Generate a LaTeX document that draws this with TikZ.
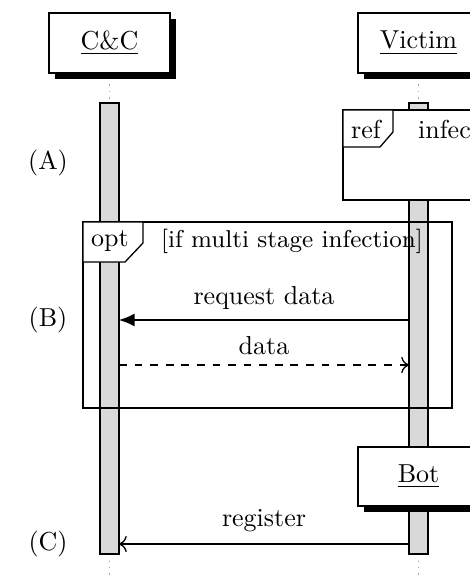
\documentclass[tikz,border=0pt]{standalone}
\usetikzlibrary{arrows.meta}
\begin{document}
\begin{tikzpicture}[x=0.385pt,y=-0.385pt,
  lifeline/.style={draw=gray!70,dotted,line width=0.5pt},
  actbar/.style={draw=black,fill=gray!30,line width=0.5pt},
  objbox/.style={draw=black,fill=white,line width=0.5pt},
  shadowbox/.style={fill=black},
  frame/.style={draw=black,line width=0.5pt},
  tagbox/.style={draw=black,fill=white,line width=0.5pt},
  msg/.style={line width=0.5pt},
  lbl/.style={inner sep=1pt,font=\normalsize}
]
\useasboundingbox (0,0) rectangle (469,579);

% lifelines
\coordinate (ccTop) at (109.5,78);
\coordinate (ccBarTop) at (109.5,103);
\coordinate (ccBarBot) at (109.5,554);
\coordinate (ccEnd) at (109.5,579);
\coordinate (vTop) at (418.5,78);
\coordinate (vBarTop) at (418.5,103);
\coordinate (vBarBot) at (418.5,554);
\coordinate (vEnd) at (418.5,579);
\draw[lifeline] (ccTop) -- (ccBarTop);
\draw[lifeline] (ccBarBot) -- (ccEnd);
\draw[lifeline] (vTop) -- (vBarTop);
\draw[lifeline] (vBarBot) -- (vEnd);

% object heads
\fill[shadowbox] (54.5,18.5) rectangle (175.5,78.5);
\draw[objbox] (49,13) rectangle (170,73);
\node[lbl] (cc) at (109.5,43) {\underline{C\&C}};
\fill[shadowbox] (363.5,18.5) rectangle (484.5,78.5);
\draw[objbox] (358,13) rectangle (479,73);
\node[lbl] (victim) at (418.5,43) {\underline{Victim}};

% activation bars
\draw[actbar] (100,103) rectangle (119,554);
\draw[actbar] (409,103) rectangle (428,554);

% ref fragment
\draw[objbox] (343,110) rectangle (500,200);
\draw[tagbox] (343,110) -- (393,110) -- (393,132) -- (380,147) -- (343,147) -- cycle;
\node[lbl] (reftag) at (366,129) {ref};
\node[lbl,anchor=west] (refname) at (415,129) {infection};

% opt fragment
\draw[frame] (83,222) rectangle (452,408);
\draw[tagbox] (83,222) -- (143,222) -- (143,243) -- (125,262) -- (83,262) -- cycle;
\node[lbl] (opttag) at (110,241) {opt};
\node[lbl,font=\fontsize{9.4pt}{11pt}\selectfont] (guard) at (292,241) {[if multi stage infection]};

% messages
\coordinate (reqS) at (409,320);
\coordinate (reqE) at (119,320);
\draw[msg,-{Latex[length=6pt,width=5pt]}] (reqS) -- (reqE);
\node[lbl] (reqL) at (264,298) {request data};

\coordinate (datS) at (119,365);
\coordinate (datE) at (409,365);
\draw[msg,dashed,-{To[length=3pt]}] (datS) -- (datE);
\node[lbl] (datL) at (264,346) {data};

% bot head
\fill[shadowbox] (364,453) rectangle (485,512);
\draw[objbox] (358,447) rectangle (479,506);
\node[lbl] (bot) at (418.5,476) {\underline{Bot}};

\coordinate (regS) at (409,544);
\coordinate (regE) at (119,544);
\draw[msg,-{To[length=3pt]}] (regS) -- (regE);
\node[lbl] (regL) at (264,521) {register};

% phase labels
\node[lbl] (pa) at (48,163) {(A)};
\node[lbl] (pb) at (48,320) {(B)};
\node[lbl] (pc) at (48,544) {(C)};
\end{tikzpicture}
\end{document}
